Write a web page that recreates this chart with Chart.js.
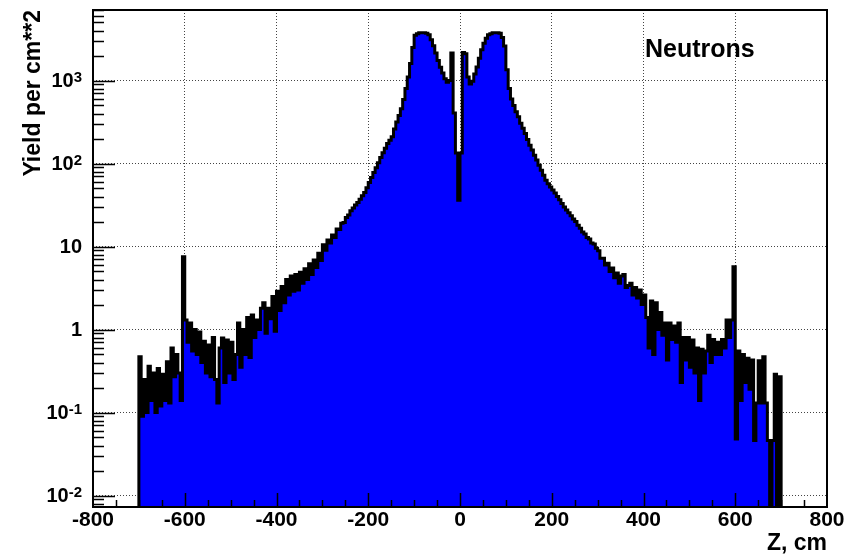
<!DOCTYPE html>
<html>
<head>
<meta charset="utf-8">
<script src="https://cdn.jsdelivr.net/npm/chart.js@4"></script>
<style>body{margin:0;background:#fff}</style>
</head>
<body>
<canvas id="chart" width="850" height="558"></canvas>
<script>
// histogram bins: 5 cm wide, from -700 to 700
const binStart = -700;
const binWidth = 5;
const floorValue = 0.001; // below the axis, closes the outline at the edges

// yield per cm**2, one value per bin
const leftWing = [0.47, 0.09, 0.25, 0.1, 0.36, 0.14, 0.3, 0.1, 0.34, 0.12,
  0.29, 0.14, 0.41, 0.13, 0.6, 0.27, 0.5, 0.3, 0.14, 7.5,
  1.3, 0.7, 1.2, 0.55, 1.0, 0.5, 0.93, 0.4, 0.72, 0.3,
  0.65, 0.27, 0.8, 0.25, 0.13, 0.6, 0.79, 0.23, 0.75, 0.3,
  0.7, 0.25, 0.5, 1.2, 0.35, 1.0, 0.5, 1.4, 0.46, 1.5,
  0.8, 1.3, 1.0, 1.8, 2.1, 0.9, 1.8, 1.35, 2.5, 0.95];
const leftBody = [2.9, 1.7, 3.3, 2.1, 4.0, 2.6, 4.4, 2.9, 4.6, 3.0,
  4.9, 3.6, 5.4, 4.0, 6.2, 4.6, 6.9, 5.6, 8.3, 6.8,
  10.5, 9.0, 12, 11, 13.8, 12.8, 16.2, 16, 19, 19.5,
  22.4, 24, 27, 29, 31.6, 34, 37, 41, 44.7, 51,
  59, 68, 78, 89, 102, 118, 135, 153, 174, 190,
  210, 260, 316, 380, 457, 590, 800, 1100, 1600, 2500];
const centre = [3500, 3650, 3760, 3760, 3760, 3720, 3550, 3090, 2630, 2140,
  1740, 1445, 1230, 1050, 955, 1000, 2140, 405, 134, 36,
  134, 2170, 2100, 1100, 910, 980, 1200, 1450, 1860, 2340,
  2820, 3240, 3550, 3670, 3760, 3760, 3760, 3720, 3300, 2600];
const rightBody = [1350, 800, 600, 500, 420, 365, 305, 265, 230, 195,
  166, 145, 126, 110, 95, 83, 72, 63, 57, 52,
  48, 44, 40, 36.5, 33, 30, 27.5, 25.5, 23.4, 21.5,
  20, 18, 16.6, 15, 14.1, 12.8, 12.3, 11, 10.7, 9.5,
  8.9, 7.2, 7.2, 6.0, 6.3, 5.0, 5.5, 4.2, 4.8, 3.6,
  4.4, 4.6, 3.2, 3.4, 3.6, 2.6, 3.2, 2.4, 3.0, 2.0];
const rightWing = [2.6, 1.4, 0.6, 2.2, 0.5, 2.1, 1.0, 1.6, 0.85, 1.2,
  0.43, 1.2, 0.76, 1.1, 0.7, 1.2, 0.23, 0.8, 0.43, 0.8,
  0.35, 0.75, 0.3, 0.6, 0.14, 0.58, 0.3, 0.55, 0.85, 0.4,
  0.76, 0.5, 0.7, 0.5, 0.76, 0.6, 1.3, 0.8, 1.3, 5.7,
  0.048, 0.55, 0.14, 0.5, 0.23, 0.45, 0.19, 0.43, 0.046, 0.13,
  0.42, 0.13, 0.47, 0.13, 0.046, 0.004, 0.046, 0.29, 0.003, 0.27];

const yTicks = [0.01, 0.1, 1, 10, 100, 1000];
const yMin = 0.00727, yMax = 7070;
const xMin = -800, xMax = 800, xStep = 200;

const FONT = "'Liberation Sans', Arial, Helvetica, sans-serif";

const yieldData = [].concat(leftWing, leftBody, centre, rightBody, rightWing);
const points = [{x: binStart, y: floorValue}];
yieldData.forEach((v, i) => points.push({x: binStart + i * binWidth, y: v}));
points.push({x: binStart + yieldData.length * binWidth, y: floorValue});

// ROOT-like frame, inner tick marks, log labels with exponents, the "Neutrons" label
const rootStyle = {
  id: 'rootStyle',
  afterDatasetsDraw(chart) {
    const {ctx, chartArea: a, scales: {x, y}} = chart;
    ctx.save();
    ctx.strokeStyle = '#000';
    ctx.lineWidth = 1.5;
    ctx.beginPath();
    for (let v = xMin + 50; v < xMax; v += 50) {
      const px = Math.round(x.getPixelForValue(v)) + 0.5;
      const len = v % xStep === 0 ? 14 : 7;
      ctx.moveTo(px, a.bottom);
      ctx.lineTo(px, a.bottom - len);
    }
    for (let d = -3; d <= 3; d++) {
      for (let m = 1; m <= 9; m++) {
        const v = m * Math.pow(10, d);
        if (v < yMin || v > yMax) continue;
        const py = Math.round(y.getPixelForValue(v)) + 0.5;
        ctx.moveTo(a.left, py);
        ctx.lineTo(a.left + (m === 1 ? 22 : 11), py);
      }
    }
    ctx.stroke();
    ctx.lineWidth = 2;
    ctx.strokeRect(a.left, a.top, a.right - a.left, a.bottom - a.top);
    ctx.restore();
  },
  afterDraw(chart) {
    const {ctx, scales: {y}} = chart;
    ctx.save();
    ctx.fillStyle = '#000';
    yTicks.forEach(v => {
      const py = y.getPixelForValue(v);
      const e = Math.round(Math.log10(v));
      let base = '10', sup = '';
      if (e === 0) base = '1';
      else if (e !== 1) sup = String(e);
      ctx.font = 'bold 15px ' + FONT;
      const sw = sup ? ctx.measureText(sup).width : 0;
      ctx.font = 'bold 20px ' + FONT;
      ctx.textAlign = 'right';
      ctx.textBaseline = 'middle';
      ctx.fillText(base, 82 - sw, py + 1);
      if (sup) {
        ctx.font = 'bold 15px ' + FONT;
        ctx.textBaseline = 'alphabetic';
        ctx.fillText(sup, 82, py + 1);
      }
    });
    ctx.font = 'bold 25px ' + FONT;
    ctx.textAlign = 'left';
    ctx.textBaseline = 'alphabetic';
    ctx.fillText('Neutrons', 645, 57);
    ctx.restore();
  }
};

const gridColor = c => (c.tick && Math.abs(c.tick.value) === xMax) ? 'rgba(0,0,0,0)' : '#444';

new Chart(document.getElementById('chart'), {
  type: 'line',
  data: {
    datasets: [{
      data: points,
      stepped: true,
      fill: 'start',
      backgroundColor: '#0000ff',
      borderColor: '#000',
      borderWidth: 3,
      pointRadius: 0,
      tension: 0
    }]
  },
  options: {
    responsive: false,
    animation: false,
    devicePixelRatio: 1,
    layout: {padding: {top: 10, right: 23, left: 0, bottom: 0}},
    plugins: {legend: {display: false}, tooltip: {enabled: false}},
    scales: {
      x: {
        type: 'linear',
        min: xMin,
        max: xMax,
        afterFit: s => { s.height = 51; },
        ticks: {
          stepSize: xStep, color: '#000', padding: 1, maxRotation: 0, autoSkip: false,
          font: {family: FONT, size: 21, weight: 'bold'}
        },
        grid: {color: gridColor, lineWidth: 1, drawTicks: false},
        border: {display: false, dash: [1, 2]},
        title: {
          display: true, text: 'Z, cm', align: 'end', color: '#000',
          font: {family: FONT, size: 23, weight: 'bold'}, padding: {top: 0, bottom: 1}
        }
      },
      y: {
        type: 'logarithmic',
        min: yMin,
        max: yMax,
        afterFit: s => { s.width = 93; },
        afterBuildTicks: s => { s.ticks = yTicks.map(v => ({value: v})); },
        ticks: {display: false},
        grid: {color: '#444', lineWidth: 1, drawTicks: false},
        border: {display: false, dash: [1, 2]},
        title: {
          display: true, text: 'Yield per cm**2', align: 'end', color: '#000',
          font: {family: FONT, size: 23, weight: 'bold'}, padding: {top: 20, bottom: 0}
        }
      }
    }
  },
  plugins: [rootStyle]
});
</script>
</body>
</html>
